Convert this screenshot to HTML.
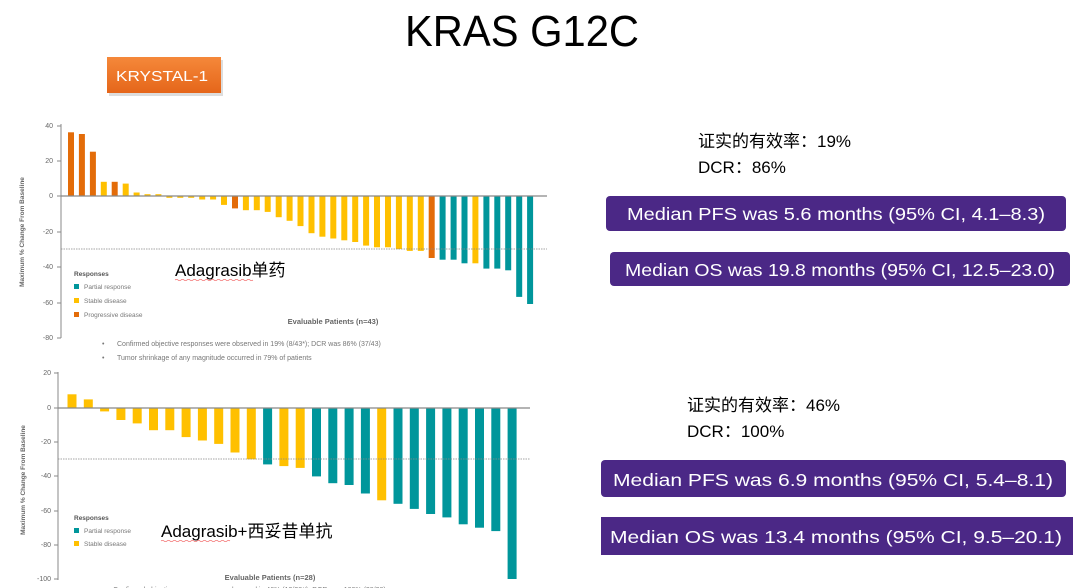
<!DOCTYPE html>
<html><head><meta charset="utf-8"><style>
html,body{margin:0;padding:0;background:#fff;width:1080px;height:588px;overflow:hidden}
svg{display:block}
text{font-family:"Liberation Sans","Noto Sans CJK SC",sans-serif}
</style></head><body>
<svg width="1080" height="588" viewBox="0 0 1080 588" xmlns="http://www.w3.org/2000/svg">
<defs><linearGradient id="og" x1="0" y1="0" x2="0" y2="1"><stop offset="0" stop-color="#f5883a"/><stop offset="1" stop-color="#e5661a"/></linearGradient></defs>
<text x="405" y="46" font-size="44" textLength="234" lengthAdjust="spacingAndGlyphs" fill="#000">KRAS G12C</text>
<rect x="109" y="60" width="114" height="36" fill="#bbb" opacity="0.5"/>
<rect x="107" y="57" width="114" height="36" fill="url(#og)"/>
<text x="116" y="81" font-size="15" fill="#fff" textLength="92" lengthAdjust="spacingAndGlyphs">KRYSTAL-1</text>

<!-- TOP CHART -->
<g font-size="7" fill="#666" text-anchor="end">
<text x="53" y="128">40</text><text x="53" y="163">20</text><text x="53" y="198">0</text><text x="53" y="234">-20</text><text x="53" y="269">-40</text><text x="53" y="305">-60</text><text x="53" y="340">-80</text>
</g>
<line x1="61" y1="124" x2="61" y2="338" stroke="#888" stroke-width="1"/>
<g stroke="#888"><line x1="57" y1="126" x2="61" y2="126"/><line x1="57" y1="161" x2="61" y2="161"/><line x1="57" y1="196" x2="61" y2="196"/><line x1="57" y1="232" x2="61" y2="232"/><line x1="57" y1="267" x2="61" y2="267"/><line x1="57" y1="303" x2="61" y2="303"/><line x1="57" y1="338" x2="61" y2="338"/></g>
<text transform="translate(24,232) rotate(-90)" font-size="6.5" font-weight="bold" fill="#666" text-anchor="middle">Maximum % Change From Baseline</text>
<g fill="#e36c09">
<rect x="68" y="132.3" width="6" height="63.7"/><rect x="78.9" y="134" width="6" height="62"/><rect x="89.9" y="151.7" width="6" height="44.3"/><rect x="111.7" y="181.8" width="6" height="14.2"/><rect x="232" y="196" width="6" height="12.4"/><rect x="428.7" y="196" width="6" height="62"/>
</g>
<g fill="#ffc000">
<rect x="100.8" y="181.8" width="6" height="14.2"/><rect x="122.7" y="183.6" width="6" height="12.4"/><rect x="133.6" y="192.5" width="6" height="3.5"/><rect x="144.5" y="194.2" width="6" height="1.8"/><rect x="155.4" y="194.2" width="6" height="1.8"/>
<rect x="166.4" y="196" width="6" height="1.8"/><rect x="177.3" y="196" width="6" height="1.8"/><rect x="188.2" y="196" width="6" height="1.8"/><rect x="199.2" y="196" width="6" height="3.5"/><rect x="210.1" y="196" width="6" height="3.5"/><rect x="221" y="196" width="6" height="8.9"/>
<rect x="242.9" y="196" width="6" height="14.2"/><rect x="253.8" y="196" width="6" height="14.2"/><rect x="264.7" y="196" width="6" height="15.9"/><rect x="275.7" y="196" width="6" height="21.2"/><rect x="286.6" y="196" width="6" height="24.8"/><rect x="297.5" y="196" width="6" height="30.1"/><rect x="308.5" y="196" width="6" height="37.2"/><rect x="319.4" y="196" width="6" height="40.7"/><rect x="330.3" y="196" width="6" height="42.5"/><rect x="341.3" y="196" width="6" height="44.3"/><rect x="352.2" y="196" width="6" height="46"/><rect x="363.1" y="196" width="6" height="49.6"/><rect x="374" y="196" width="6" height="51.3"/><rect x="385" y="196" width="6" height="51.3"/><rect x="395.9" y="196" width="6" height="53.1"/><rect x="406.8" y="196" width="6" height="54.9"/><rect x="417.8" y="196" width="6" height="54.9"/>
<rect x="472.4" y="196" width="6" height="67.3"/>
</g>
<g fill="#00969b">
<rect x="439.6" y="196" width="6" height="63.7"/><rect x="450.6" y="196" width="6" height="63.7"/><rect x="461.5" y="196" width="6" height="67.3"/><rect x="483.4" y="196" width="6" height="72.6"/><rect x="494.3" y="196" width="6" height="72.6"/><rect x="505.2" y="196" width="6" height="74.3"/><rect x="516.2" y="196" width="6" height="100.9"/><rect x="527.1" y="196" width="6" height="108"/>
</g>
<line x1="61" y1="196" x2="547" y2="196" stroke="#888" stroke-width="1.3"/>
<line x1="61" y1="249" x2="547" y2="249" stroke="#888" stroke-width="0.8" stroke-dasharray="1.5,1"/>
<text x="74" y="276" font-size="6.5" font-weight="bold" fill="#555">Responses</text>
<rect x="74" y="284" width="5" height="5" fill="#00969b"/><text x="84" y="289" font-size="6.5" fill="#777">Partial response</text>
<rect x="74" y="298" width="5" height="5" fill="#ffc000"/><text x="84" y="303" font-size="6.5" fill="#777">Stable disease</text>
<rect x="74" y="312" width="5" height="5" fill="#e36c09"/><text x="84" y="317" font-size="6.5" fill="#777">Progressive disease</text>
<text x="175" y="276" font-size="17" fill="#000">Adagrasib单药</text>
<path d="M175 280 q1.5 -1 3 0 t3 0 t3 0 t3 0 t3 0 t3 0 t3 0 t3 0 t3 0 t3 0 t3 0 t3 0 t3 0 t3 0 t3 0 t3 0 t3 0 t3 0 t3 0 t3 0 t3 0 t3 0 t3 0 t3 0 t3 0 t3 0" stroke="#e33" stroke-width="0.6" fill="none"/>
<text x="333" y="324" font-size="7.5" font-weight="bold" fill="#666" text-anchor="middle">Evaluable Patients (n=43)</text>
<text x="102" y="346" font-size="7" fill="#777">•</text><text x="117" y="346" font-size="7" fill="#777">Confirmed objective responses were observed in 19% (8/43*); DCR was 86% (37/43)</text>
<text x="102" y="360" font-size="7" fill="#777">•</text><text x="117" y="360" font-size="7" fill="#777">Tumor shrinkage of any magnitude occurred in 79% of patients</text>

<!-- BOTTOM CHART -->
<g font-size="7" fill="#666" text-anchor="end">
<text x="51" y="375">20</text><text x="51" y="410">0</text><text x="51" y="444">-20</text><text x="51" y="478">-40</text><text x="51" y="513">-60</text><text x="51" y="547">-80</text><text x="51" y="581">-100</text>
</g>
<line x1="58" y1="372" x2="58" y2="580" stroke="#888" stroke-width="1"/>
<g stroke="#888"><line x1="54" y1="373" x2="58" y2="373"/><line x1="54" y1="408" x2="58" y2="408"/><line x1="54" y1="442" x2="58" y2="442"/><line x1="54" y1="476" x2="58" y2="476"/><line x1="54" y1="511" x2="58" y2="511"/><line x1="54" y1="545" x2="58" y2="545"/><line x1="54" y1="579" x2="58" y2="579"/></g>
<text transform="translate(25,480) rotate(-90)" font-size="6.5" font-weight="bold" fill="#666" text-anchor="middle">Maximum % Change From Baseline</text>
<g fill="#ffc000">
<rect x="67.5" y="394.3" width="9" height="13.7"/><rect x="83.8" y="399.4" width="9" height="8.6"/>
<rect x="100.1" y="408" width="9" height="3.4"/><rect x="116.4" y="408" width="9" height="12"/><rect x="132.7" y="408" width="9" height="15.4"/><rect x="149" y="408" width="9" height="22.2"/><rect x="165.3" y="408" width="9" height="22.2"/><rect x="181.6" y="408" width="9" height="29.1"/><rect x="197.9" y="408" width="9" height="32.5"/><rect x="214.2" y="408" width="9" height="35.9"/><rect x="230.5" y="408" width="9" height="44.5"/><rect x="246.8" y="408" width="9" height="51.3"/>
<rect x="279.4" y="408" width="9" height="58.1"/><rect x="295.7" y="408" width="9" height="59.9"/><rect x="377.2" y="408" width="9" height="92.3"/>
</g>
<g fill="#00969b">
<rect x="263.1" y="408" width="9" height="56.4"/><rect x="312" y="408" width="9" height="68.4"/><rect x="328.3" y="408" width="9" height="75.2"/><rect x="344.6" y="408" width="9" height="77"/><rect x="360.9" y="408" width="9" height="85.5"/>
<rect x="393.5" y="408" width="9" height="95.8"/><rect x="409.8" y="408" width="9" height="100.9"/><rect x="426.1" y="408" width="9" height="106"/><rect x="442.4" y="408" width="9" height="109.4"/><rect x="458.7" y="408" width="9" height="116.3"/><rect x="475" y="408" width="9" height="119.7"/><rect x="491.3" y="408" width="9" height="123.1"/><rect x="507.6" y="408" width="9" height="171"/>
</g>
<line x1="58" y1="408" x2="530" y2="408" stroke="#888" stroke-width="1.3"/>
<line x1="58" y1="459" x2="530" y2="459" stroke="#888" stroke-width="0.8" stroke-dasharray="1.5,1"/>
<text x="74" y="520" font-size="6.5" font-weight="bold" fill="#555">Responses</text>
<rect x="74" y="528" width="5" height="5" fill="#00969b"/><text x="84" y="533" font-size="6.5" fill="#777">Partial response</text>
<rect x="74" y="541" width="5" height="5" fill="#ffc000"/><text x="84" y="546" font-size="6.5" fill="#777">Stable disease</text>
<text x="161" y="537" font-size="17" fill="#000">Adagrasib+西妥昔单抗</text>
<path d="M161 541 q1.5 -1 3 0 t3 0 t3 0 t3 0 t3 0 t3 0 t3 0 t3 0 t3 0 t3 0 t3 0 t3 0 t3 0 t3 0 t3 0 t3 0 t3 0 t3 0 t3 0 t3 0 t3 0 t3 0 t3 0" stroke="#e33" stroke-width="0.6" fill="none"/>
<text x="270" y="580" font-size="7.5" font-weight="bold" fill="#666" text-anchor="middle">Evaluable Patients (n=28)</text>
<text x="100" y="592" font-size="7" fill="#777">•</text><text x="113" y="592" font-size="7" fill="#777">Confirmed objective responses were observed in 46% (13/28#); DCR was 100% (28/28)</text>

<!-- RIGHT -->
<text x="698" y="147" font-size="17" fill="#000">证实的有效率：19%</text>
<text x="698" y="173" font-size="17" fill="#000">DCR：86%</text>
<rect x="606" y="196" width="460" height="35" rx="4" fill="#4b2886"/>
<text x="836" y="220" font-size="17.5" fill="#fff" text-anchor="middle" textLength="418" lengthAdjust="spacingAndGlyphs">Median PFS was 5.6 months (95% CI, 4.1–8.3)</text>
<rect x="610" y="252" width="460" height="34" rx="4" fill="#4b2886"/>
<text x="840" y="276" font-size="17.5" fill="#fff" text-anchor="middle" textLength="430" lengthAdjust="spacingAndGlyphs">Median OS was 19.8 months (95% CI, 12.5–23.0)</text>
<text x="687" y="411" font-size="17" fill="#000">证实的有效率：46%</text>
<text x="687" y="437" font-size="17" fill="#000">DCR：100%</text>
<rect x="601" y="460" width="465" height="37" rx="4" fill="#4b2886"/>
<text x="833" y="486" font-size="17.5" fill="#fff" text-anchor="middle" textLength="440" lengthAdjust="spacingAndGlyphs">Median PFS was 6.9 months (95% CI, 5.4–8.1)</text>
<rect x="601" y="517" width="472" height="38" fill="#4b2886"/>
<text x="836" y="543" font-size="17.5" fill="#fff" text-anchor="middle" textLength="452" lengthAdjust="spacingAndGlyphs">Median OS was 13.4 months (95% CI, 9.5–20.1)</text>
</svg>
</body></html>
